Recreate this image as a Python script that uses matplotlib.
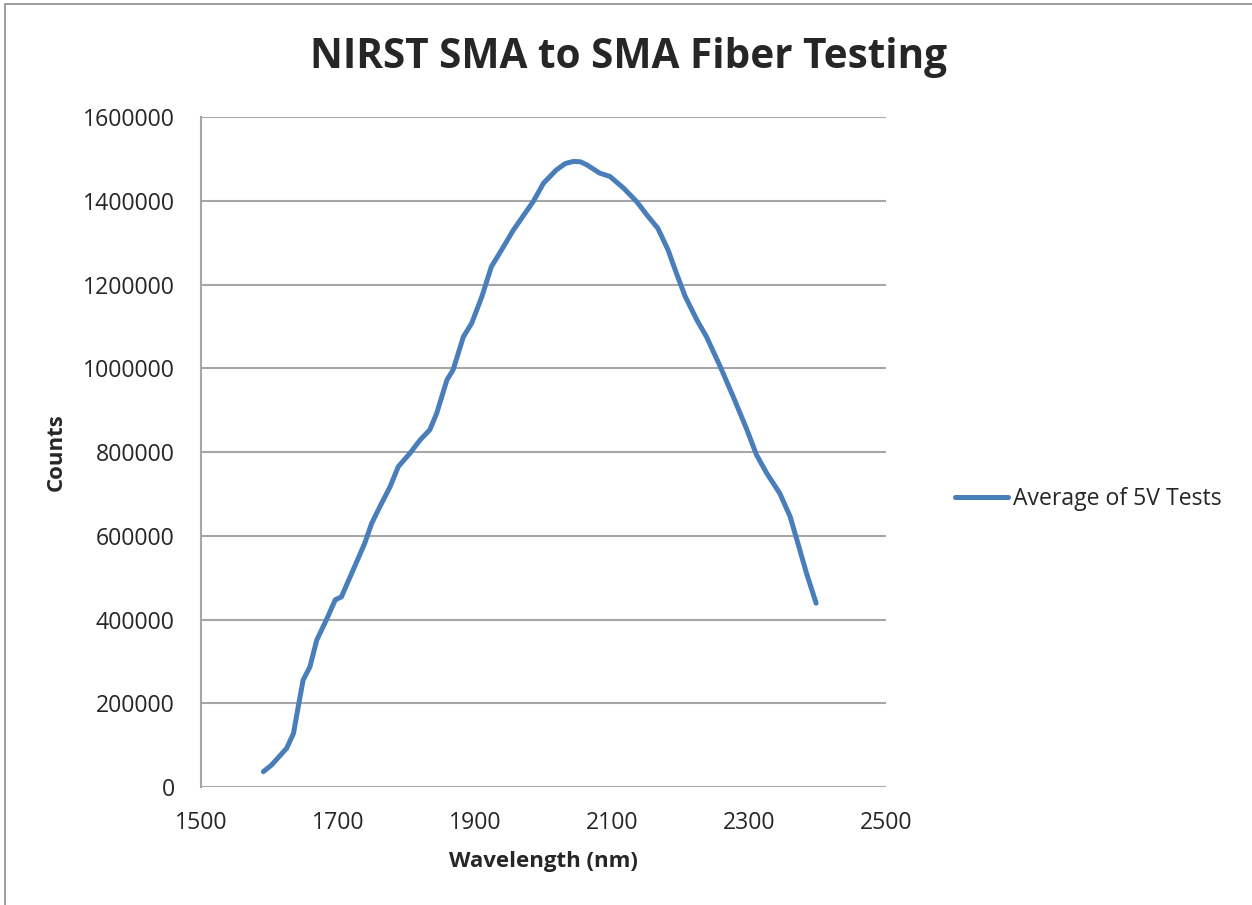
import matplotlib.pyplot as plt
from matplotlib.patches import Rectangle

# wavelength (nm) and counts
wavelength = [1591, 1603, 1625, 1635, 1642, 1649, 1659, 1669, 1683, 1696, 1705,
              1722, 1739, 1749, 1761, 1776, 1788, 1805, 1820, 1834, 1844, 1859,
              1868, 1883, 1895, 1910, 1924, 1936, 1956, 1973, 1985, 2000, 2019,
              2032, 2044, 2054, 2063, 2082, 2097, 2117, 2136, 2151, 2167, 2182,
              2194, 2207, 2224, 2238, 2258, 2277, 2297, 2311, 2326, 2345, 2360,
              2370, 2384, 2398]
counts = [36500, 52500, 92400, 128000, 192000, 255000, 287000, 351000, 399000,
          447000, 454000, 518000, 582000, 629000, 669000, 717000, 765000, 797000,
          829000, 853000, 892000, 972000, 996000, 1075000, 1107000, 1171000,
          1243000, 1275000, 1330000, 1370000, 1398000, 1442000, 1474000, 1489000,
          1494000, 1493000, 1486000, 1466000, 1458000, 1430000, 1398000, 1366000,
          1334000, 1282000, 1227000, 1171000, 1115000, 1075000, 1004000, 932000,
          853000, 793000, 749000, 701000, 646000, 590000, 510000, 439000]
series_name = "Average of 5V Tests"
x_ticks = [1500, 1700, 1900, 2100, 2300, 2500]
y_ticks = [0, 200000, 400000, 600000, 800000, 1000000, 1200000, 1400000, 1600000]

plt.rcParams['font.family'] = ['Open Sans', 'DejaVu Sans']
text_color = '#262626'
grid_color = '#a6a6a6'
W, H = 1252, 905

fig = plt.figure(figsize=(W / 100, H / 100), dpi=100)
ax = fig.add_axes([201 / W, 1 - 787 / H, 685 / W, 670 / H])

ax.plot(wavelength, counts, color='#4a7ebb', lw=3.6, solid_capstyle='round',
        solid_joinstyle='round', label=series_name, zorder=3)

ax.set_xlim(1500, 2500)
ax.set_ylim(0, 1600000)
ax.set_xticks(x_ticks)
ax.set_yticks(y_ticks)
ax.set_xticklabels([str(t) for t in x_ticks])
ax.set_yticklabels([str(t) for t in y_ticks])
ax.tick_params(length=0, labelsize=16.6, colors=text_color)
ax.tick_params(axis='y', pad=19)
ax.tick_params(axis='x', pad=17)
ax.grid(axis='y', color=grid_color, lw=1.5)
for s in ['top', 'right', 'bottom']:
    ax.spines[s].set_visible(False)
ax.spines['left'].set_color(grid_color)
ax.spines['left'].set_linewidth(1.5)

# axis titles and chart title
fig.text(543 / W, 1 - 861 / H, "Wavelength (nm)", ha='center', va='center',
         fontsize=16, fontweight='bold', color=text_color)
fig.text(56 / W, 1 - 452 / H, "Counts", ha='center', va='center', rotation=90,
         fontsize=16, fontweight='bold', color=text_color)
fig.text(629 / W, 1 - 57 / H, "NIRST SMA to SMA Fiber Testing", ha='center', va='center',
         fontsize=29.2, fontweight='bold', color=text_color)

leg = ax.legend(loc='center left', bbox_to_anchor=(955 / W, 1 - 499 / H),
                bbox_transform=fig.transFigure, frameon=False, borderpad=0,
                borderaxespad=0, fontsize=16.6, handlelength=2.3, handletextpad=0.2)
for t in leg.get_texts():
    t.set_color(text_color)

# outer chart border
fig.patches.append(Rectangle((5 / W, -0.01), 1.1, 1 - 4 / H + 0.01, transform=fig.transFigure,
                             fill=False, edgecolor='#8c8c8c', lw=1.2))

fig.savefig("out.png", dpi=100)
